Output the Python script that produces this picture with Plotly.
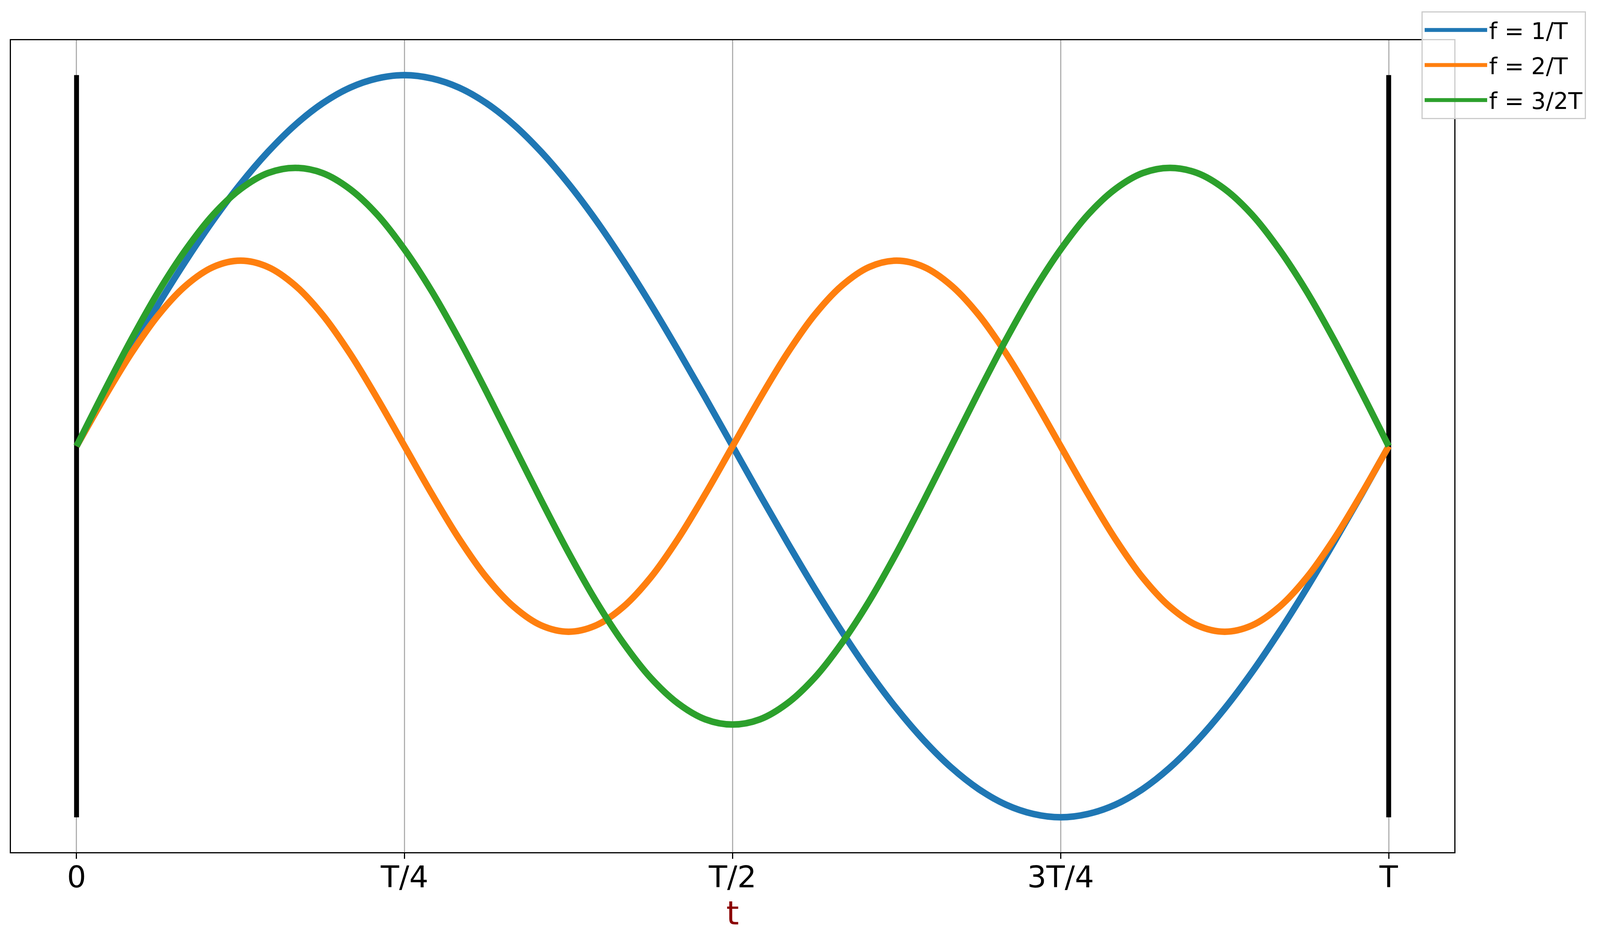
import plotly.graph_objects as go

# time samples in units of T/48
t_steps = list(range(49))

# (amplitude units)
blue_f1 = [0, 0.131, 0.259, 0.383, 0.5, 0.609, 0.707, 0.793, 0.866, 0.924, 0.966, 0.991, 1.0,
           0.991, 0.966, 0.924, 0.866, 0.793, 0.707, 0.609, 0.5, 0.383, 0.259, 0.131, 0,
           -0.131, -0.259, -0.383, -0.5, -0.609, -0.707, -0.793, -0.866, -0.924, -0.966, -0.991, -1.0,
           -0.991, -0.966, -0.924, -0.866, -0.793, -0.707, -0.609, -0.5, -0.383, -0.259, -0.131, 0]
orange_f2 = [0, 0.129, 0.25, 0.354, 0.433, 0.483, 0.5, 0.483, 0.433, 0.354, 0.25, 0.129, 0,
             -0.129, -0.25, -0.354, -0.433, -0.483, -0.5, -0.483, -0.433, -0.354, -0.25, -0.129, 0,
             0.129, 0.25, 0.354, 0.433, 0.483, 0.5, 0.483, 0.433, 0.354, 0.25, 0.129, 0,
             -0.129, -0.25, -0.354, -0.433, -0.483, -0.5, -0.483, -0.433, -0.354, -0.25, -0.129, 0]
green_f32 = [0, 0.146, 0.287, 0.417, 0.53, 0.624, 0.693, 0.736, 0.75, 0.736, 0.693, 0.624, 0.53,
             0.417, 0.287, 0.146, 0, -0.146, -0.287, -0.417, -0.53, -0.624, -0.693, -0.736, -0.75,
             -0.736, -0.693, -0.624, -0.53, -0.417, -0.287, -0.146, 0, 0.146, 0.287, 0.417, 0.53,
             0.624, 0.693, 0.736, 0.75, 0.736, 0.693, 0.624, 0.53, 0.417, 0.287, 0.146, 0]

series_names = ["f = 1/T", "f = 2/T", "f = 3/2T"]
series_colors = ["#1f77b4", "#ff7f0e", "#2ca02c"]

# boundary bars at t=0 and t=T
bar_x = [0, 0, None, 48, 48]
bar_y = [-1, 1, None, -1, 1]

tick_vals = [0, 12, 24, 36, 48]
tick_text = ["0", "T/4", "T/2", "3T/4", "T"]

FONT = "DejaVu Sans"

fig = go.Figure()
fig.add_trace(go.Scatter(x=bar_x, y=bar_y, mode="lines",
                         line=dict(color="black", width=12.5),
                         showlegend=False, hoverinfo="skip"))
for ys, name, col in zip([blue_f1, orange_f2, green_f32], series_names, series_colors):
    fig.add_trace(go.Scatter(x=t_steps, y=ys, mode="lines", name=name, legendgroup=name,
                             line=dict(color=col, width=16.7, shape="spline", smoothing=1.0)))

fig.update_layout(
    width=4096, height=2412,
    margin=dict(l=28, r=373, t=103, b=230, autoexpand=False),
    plot_bgcolor="white", paper_bgcolor="white",
    font=dict(family=FONT, color="black"),
    legend=dict(
        x=0.9773, y=1.0356, xanchor="left", yanchor="top",
        bgcolor="rgba(255,255,255,0.8)", bordercolor="#cccccc", borderwidth=3,
        font=dict(family=FONT, size=59, color="black"),
        itemwidth=160, tracegroupgap=10,
    ),
    xaxis=dict(
        range=[-2.4, 50.4], tickmode="array", tickvals=tick_vals, ticktext=tick_text,
        showgrid=True, gridcolor="#b0b0b0", gridwidth=3.3,
        showline=True, linecolor="black", linewidth=3.3, mirror=True,
        ticks="outside", ticklen=14, tickwidth=3.3, tickcolor="black",
        tickfont=dict(family=FONT, size=77, color="black"),
        ticklabelstandoff=-20,
        zeroline=False,
        title=dict(text="t", font=dict(family=FONT, size=83, color="#8B0000"), standoff=10),
    ),
    yaxis=dict(
        range=[-1.094, 1.094], showgrid=False, zeroline=False,
        showticklabels=False, ticks="",
        showline=True, linecolor="black", linewidth=3.3, mirror=True,
    ),
)

fig.write_html("out.html", config={"displayModeBar": False},
               post_script="document.body.style.margin = '0px';")
